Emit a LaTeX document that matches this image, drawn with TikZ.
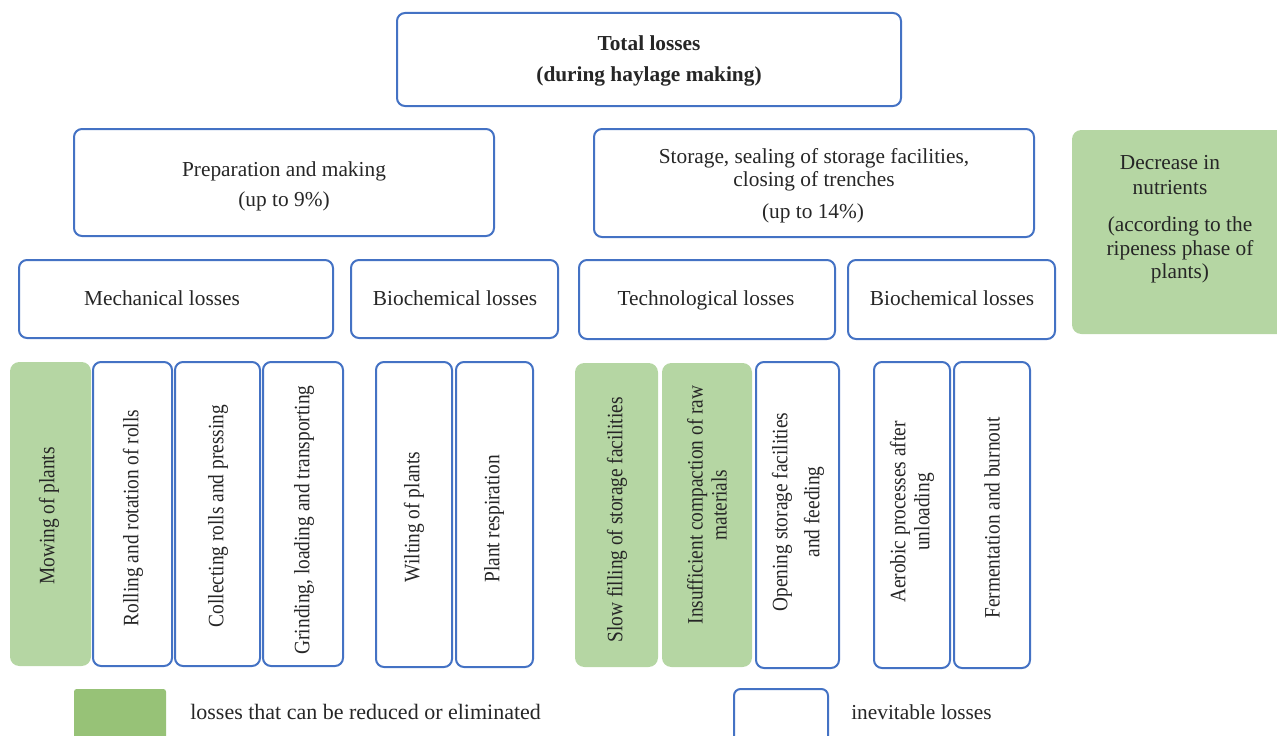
\documentclass[tikz,border=0pt]{standalone}
\usepackage{fontspec}
\setmainfont{Liberation Serif}
\newfontfamily\vfont[FakeStretch=0.88]{Liberation Serif}
\definecolor{boxblue}{HTML}{4472C4}
\definecolor{boxgreen}{HTML}{B5D6A3}
\definecolor{leggreen}{HTML}{97C277}
\begin{document}
\begin{tikzpicture}[x=0.75pt,y=-0.75pt,
  bluebox/.style={draw=boxblue,line width=1.5pt,rounded corners=6pt,fill=white},
  greenbox/.style={fill=boxgreen,rounded corners=7pt},
  htext/.style={font=\fontsize{16}{17.5}\selectfont,align=center,inner sep=0pt,text=black!85},
  vtext/.style={font=\vfont\fontsize{16.5}{18}\selectfont,align=center,inner sep=0pt,rotate=90,text=black!85}]
\useasboundingbox (0,0) rectangle (1277,735);
% top
\draw[bluebox] (397,13) rectangle (901,106);
\node[htext,font=\bfseries\fontsize{16}{23}\selectfont] (total) at (649,61) {Total losses\\(during haylage making)};
% level 2
\draw[bluebox] (74,129) rectangle (494,236);
\node[htext,font=\fontsize{16}{22.5}\selectfont] (prep) at (284,186) {Preparation and making\\(up to 9\%)};
\draw[bluebox] (594,129) rectangle (1034,237);
\node[htext] (stor) at (814,170) {Storage, sealing of storage facilities,\\closing of trenches};
\node[htext] (storp) at (813,213) {(up to 14\%)};
\fill[greenbox] (1072,130) rectangle (1290,334);
\node[htext,font=\fontsize{16}{18.5}\selectfont] (decr) at (1170,175) {Decrease in\\nutrients};
\node[htext,font=\fontsize{16}{17.5}\selectfont] (decrp) at (1180,250) {(according to the\\ripeness phase of\\plants)};
% level 3
\draw[bluebox] (19,260) rectangle (333,338);
\node[htext] (mech) at (162,298) {Mechanical losses};
\draw[bluebox] (351,260) rectangle (558,338);
\node[htext] (bio1) at (455,298) {Biochemical losses};
\draw[bluebox] (579,260) rectangle (835,339);
\node[htext] (tech) at (706,300) {Technological losses};
\draw[bluebox] (848,260) rectangle (1055,339);
\node[htext] (bio2) at (952,298) {Biochemical losses};
% level 4
\fill[greenbox] (10,362) rectangle (91,666);
\node[vtext] (mow) at (49,516) {Mowing of plants};
\draw[bluebox] (93,362) rectangle (172,666);
\node[vtext] (roll) at (133,518) {Rolling and rotation of rolls};
\draw[bluebox] (175,362) rectangle (260,666);
\node[vtext] (coll) at (218,516) {Collecting rolls and pressing};
\draw[bluebox] (263,362) rectangle (343,666);
\node[vtext] (grind) at (304,520) {Grinding, loading and transporting};
\draw[bluebox] (376,362) rectangle (452,667);
\node[vtext] (wilt) at (414,517) {Wilting of plants};
\draw[bluebox] (456,362) rectangle (533,667);
\node[vtext] (resp) at (494,519) {Plant respiration};
\fill[greenbox] (575,363) rectangle (658,667);
\node[vtext] (slow) at (617,520) {Slow filling of storage facilities};
\fill[greenbox] (662,363) rectangle (752,667);
\node[vtext] (insuf) at (707,505) {Insufficient compaction of raw\\materials};
\draw[bluebox] (756,362) rectangle (839,668);
\node[vtext,font=\vfont\fontsize{16.5}{24}\selectfont] (open) at (798,512) {Opening storage facilities\\and feeding};
\draw[bluebox] (874,362) rectangle (950,668);
\node[vtext] (aer) at (912,512) {Aerobic processes after\\unloading};
\draw[bluebox] (954,362) rectangle (1030,668);
\node[vtext] (ferm) at (992,518) {Fermentation and burnout};
% legend
\fill[leggreen,rounded corners=2pt] (74,689) rectangle (166,745);
\node[htext,anchor=west,font=\fontsize{16.5}{18}\selectfont] (leg1) at (190,712) {losses that can be reduced or eliminated};
\draw[bluebox,rounded corners=5pt] (734,689) rectangle (828,750);
\node[htext,anchor=west] (leg2) at (851,712) {inevitable losses};
\end{tikzpicture}
\end{document}
